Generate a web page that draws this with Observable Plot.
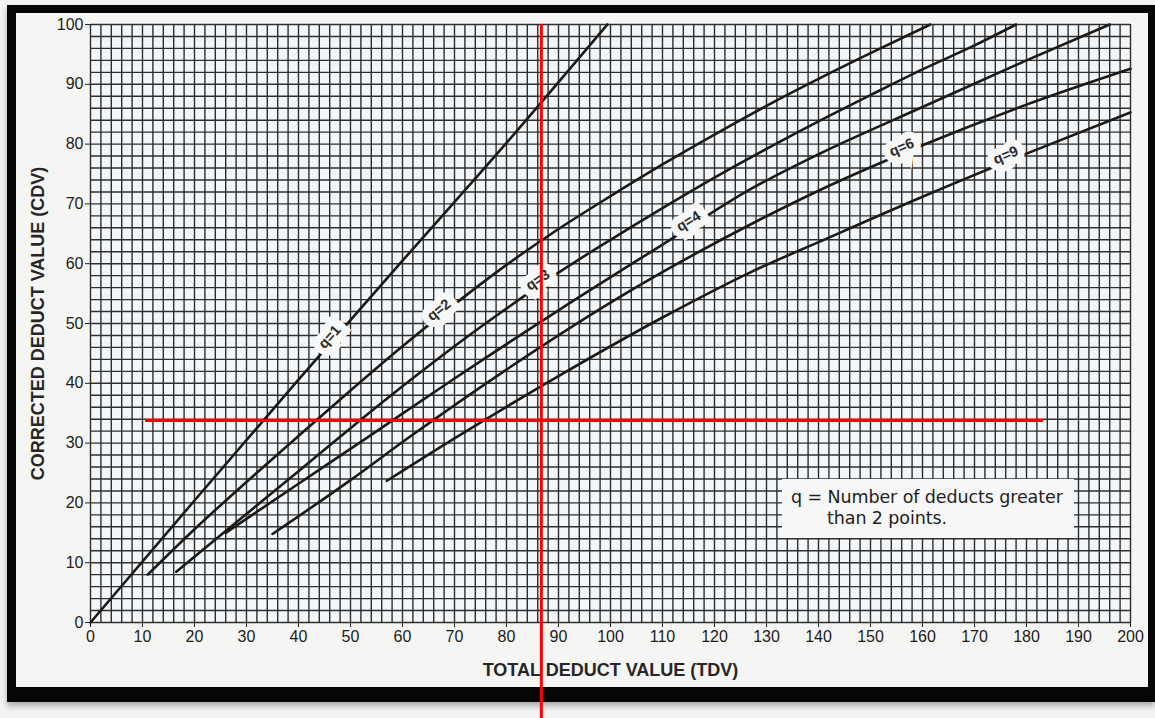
<!DOCTYPE html>
<html>
<head>
<meta charset="utf-8">
<script src="https://cdn.jsdelivr.net/npm/d3@7"></script>
<script src="https://cdn.jsdelivr.net/npm/@observablehq/plot@0.6"></script>
<style>
html,body{margin:0;padding:0;background:#f4f4f4;}
#page{position:relative;width:1155px;height:718px;overflow:hidden;background:#f3f3f3;}
#frame{position:absolute;left:7px;top:5px;width:1148px;height:697px;box-sizing:border-box;border-style:solid;border-color:#060606;border-width:8px 7px 15px 9px;background:#f5f5f3;box-shadow:0 4px 6px rgba(0,0,0,0.3);}
#chart{position:absolute;left:0;top:0;}
#legend{position:absolute;left:782px;top:479px;width:292px;height:59px;background:#f7f7f7;font:17.5px "DejaVu Sans",sans-serif;color:#1e1e1e;line-height:21px;box-sizing:border-box;padding:8px 0 0 9px;white-space:nowrap;letter-spacing:-0.1px;}
#legend .l2{padding-left:36px;}
</style>
</head>
<body>
<div id="page">
  <div id="frame"></div>
  <div id="chart"></div>
  <div id="legend"><div>q = Number of deducts greater</div><div class="l2">than 2 points.</div></div>
</div>
<script>
// ---- data ----
const xTicks = d3.range(0, 201, 10);
const yTicks = d3.range(0, 101, 10);
const gridX = d3.range(0, 201, 2);
const gridY = d3.range(0, 101, 2);

const q1 = [[0,0],[20,20.4],[40,40.6],[60,60.5],[80,80.2],[99.4,100]];
const q2 = [[11,8],[20,15.6],[30,23.5],[40,31.2],[50,38.8],[60,46.2],[70,53.2],[80,59.8],[90,65.8],[100,71.3],[110,76.6],[120,81.6],[130,86.4],[140,90.9],[150,95.2],[161.5,100]];
const q3 = [[16.5,8.5],[26,15.3],[40,25.3],[50,32.5],[60,39.5],[70,46.2],[80,52.5],[90,58.5],[100,64],[110,69.3],[120,74.4],[130,79.2],[140,83.8],[150,88.2],[160,92.5],[170,96.5],[178,100]];
const q4 = [[26,15],[40,23.2],[53,30.8],[70,40.8],[90,52.2],[110,63.2],[127,72.5],[140,78.3],[160,86.2],[180,94],[196,100]];
const q6 = [[35,14.8],[50,23.8],[61,30.8],[80,42.3],[100,53.5],[127,66.6],[140,72.2],[160,79.8],[180,86.6],[200,92.6]];
const q9 = [[57,23.7],[70,30.8],[90,41.2],[110,51],[127,58.6],[140,63.6],[160,71.2],[180,78.4],[200,85.3]];

const curveNames = ["q=1","q=2","q=3","q=4","q=6","q=9"];
const curvePoints = [q1, q2, q3, q4, q6, q9];
const labelAtX = [46, 67, 86, 115, 156, 176];

const crossX = [86.7];          // red vertical line (TDV)
const crossY = [33.8];          // red horizontal line (CDV)
const crossXSpan = [10.6, 183.3];
const crossYSpan = [100, -16.1];

const xTitle = "TOTAL DEDUCT VALUE (TDV)";
const yTitle = "CORRECTED DEDUCT VALUE (CDV)";

// ---- build ----
const W = 1155, H = 718, mL = 90, mR = 25, mT = 24, mB = 96;
const kx = (W - mL - mR) / 200, ky = (H - mT - mB) / 100;

const rows = curveNames.flatMap((q, i) => curvePoints[i].map(([x, y]) => ({q, x, y})));

function interp(pts, x) {
  for (let i = 1; i < pts.length; i++) {
    if (x <= pts[i][0]) {
      const [x0, y0] = pts[i-1], [x1, y1] = pts[i];
      const t = (x - x0) / (x1 - x0);
      return {y: y0 + t * (y1 - y0), s: (y1 - y0) / (x1 - x0)};
    }
  }
  const n = pts.length;
  return {y: pts[n-1][1], s: 0};
}
const labels = curveNames.map((q, i) => {
  const r = interp(curvePoints[i], labelAtX[i]);
  return {q, x: labelAtX[i], y: r.y, a: -Math.atan(r.s * ky / kx) * 180 / Math.PI};
});

const plot = Plot.plot({
  width: W, height: H,
  marginLeft: mL, marginRight: mR, marginTop: mT, marginBottom: mB,
  x: {domain: [0, 200]},
  y: {domain: [0, 100]},
  style: {background: "transparent", fontFamily: "'Liberation Sans', Arial, sans-serif", fontSize: "16px", color: "#1c1c1c", overflow: "visible"},
  marks: [
    Plot.rect([0], {x1: 0, x2: 200, y1: 0, y2: 100, fill: "#f3f6f8"}),
    Plot.ruleX(gridX, {stroke: "#2e2e2e", strokeWidth: 1.4}),
    Plot.ruleY(gridY, {stroke: "#2e2e2e", strokeWidth: 1.4}),
    Plot.axisX(xTicks, {tickSize: 5, tickPadding: 3, label: null, stroke: "#222"}),
    Plot.axisY(yTicks, {tickSize: 5, tickPadding: 2, label: null, stroke: "#222"}),
    Plot.line(rows, {x: "x", y: "y", z: "q", curve: "monotone-x", stroke: "#1a1a1a", strokeWidth: 2.6}),
    Plot.text(labels, {x: "x", y: "y", text: "q", rotate: "a", dy: -7, fontSize: 14.5, fontWeight: "bold", fill: "#2a2a2a", stroke: "#f8f8f8", strokeWidth: 14, strokeLinejoin: "miter"}),
    Plot.text([xTitle], {frameAnchor: "bottom", dy: 53, fontSize: 18, fontWeight: "bold", fill: "#262626"}),
    Plot.text([yTitle], {frameAnchor: "left", textAnchor: "middle", dx: -52, rotate: -90, fontSize: 18, fontWeight: "bold", fill: "#262626"}),
    Plot.ruleY(crossY, {x1: crossXSpan[0], x2: crossXSpan[1], stroke: "#ff0000", strokeWidth: 3}),
    Plot.ruleX(crossX, {y1: crossYSpan[0], y2: crossYSpan[1], stroke: "#ff0000", strokeWidth: 3})
  ]
});
document.getElementById("chart").appendChild(plot);
</script>
</body>
</html>
